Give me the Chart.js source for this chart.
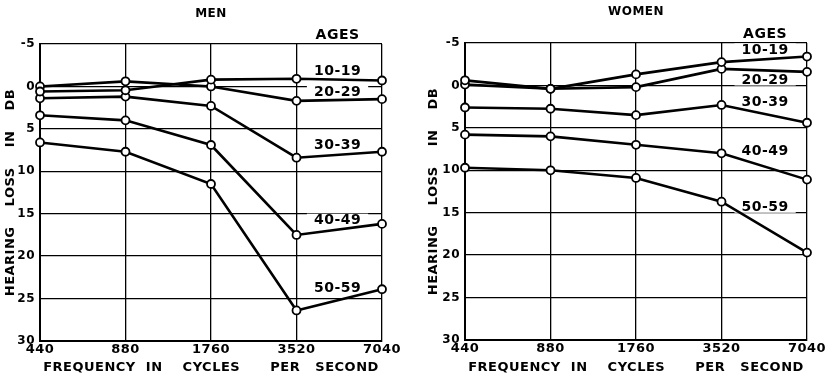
<!DOCTYPE html>
<html lang="en">
<head>
  <meta charset="UTF-8" />
  <title>Hearing loss by age</title>
  <script src="https://cdn.jsdelivr.net/npm/chart.js"></script>
  <style>
    body { margin: 0; background: #fff; }
    .wrap { position: relative; width: 829px; height: 376px; }
    #menWrap { position: absolute; left: 0; top: 0; width: 410px; height: 376px; }
    #womenWrap { position: absolute; left: 416px; top: 0; width: 413px; height: 376px; }
  </style>
</head>
<body>
  <div class="wrap">
    <div id="menWrap"><canvas id="menChart"></canvas></div>
    <div id="womenWrap"><canvas id="womenChart"></canvas></div>
  </div>

  <script>
    const freqLabels = ['440', '880', '1760', '3520', '7040'];
    const ageGroups = ['10-19', '20-29', '30-39', '40-49', '50-59'];

    // hearing loss in dB, one array per age group
    const men10 = [0.6, 0.45, -0.8, -0.9, -0.7];
    const men20 = [0.0, -0.6, 0.0, 1.7, 1.5];
    const men30 = [1.4, 1.2, 2.3, 8.4, 7.7];
    const men40 = [3.4, 4.0, 6.9, 17.5, 16.2];
    const men50 = [6.6, 7.7, 11.5, 26.4, 23.9];

    const women10 = [-0.6, 0.4, -1.3, -2.75, -3.4];
    const women20 = [-0.1, 0.4, 0.2, -1.95, -1.6];
    const women30 = [2.6, 2.75, 3.5, 2.3, 4.4];
    const women40 = [5.8, 6.0, 7.0, 8.0, 11.1];
    const women50 = [9.7, 10.0, 10.9, 13.7, 19.7];

    // where the "AGES" legend texts sit (in data units)
    const menTagY = [-6.1, -1.9, 0.6, 6.8, 15.7, 23.7];
    const womenTagY = [-6.1, -4.25, -0.7, 1.9, 7.6, 14.3];

    const FONT = '"DejaVu Sans", sans-serif';

    // draws the age labels on a white box, under the lines
    const tagPlugin = {
      id: 'ageTags',
      beforeDraw(chart) {
        chart.ctx.letterSpacing = '0.5px';
      },
      beforeDatasetsDraw(chart, args, opts) {
        const { ctx, scales: { x, y } } = chart;
        ctx.save();
        ctx.letterSpacing = '0.5px';
        ctx.font = 'bold 14px ' + FONT;
        ctx.textAlign = 'center';
        ctx.textBaseline = 'middle';
        const px = x.getPixelForValue(opts.xPos);
        ['AGES'].concat(ageGroups).forEach((t, i) => {
          const py = y.getPixelForValue(opts.yPos[i]);
          const w = ctx.measureText(t).width + 14;
          ctx.fillStyle = '#fff';
          ctx.fillRect(px - w / 2, py - 6, w, 12);
          ctx.fillStyle = '#000';
          ctx.fillText(t, px, py + 1);
        });
        ctx.restore();
      }
    };

    function makeDatasets(series) {
      return series.map((data, i) => ({
        label: ageGroups[i],
        data: data,
        borderColor: '#000',
        borderWidth: 2.6,
        tension: 0,
        pointRadius: 4,
        pointBorderWidth: 1.8,
        pointBackgroundColor: '#fff',
        pointBorderColor: '#000',
        clip: false
      }));
    }

    function makeChart(id, title, series, tagY, tagX, pad) {
      const ctx = document.getElementById(id).getContext('2d');
      return new Chart(ctx, {
        type: 'line',
        data: { labels: freqLabels, datasets: makeDatasets(series) },
        options: {
          responsive: true,
          maintainAspectRatio: false,
          animation: false,
          layout: { padding: { right: pad.right, left: 0, bottom: 0, top: 0 } },
          plugins: {
            legend: { display: false },
            tooltip: { enabled: false },
            title: {
              display: true,
              text: title,
              fullSize: false,
              color: '#000',
              font: { family: FONT, size: 12, weight: 'bold', lineHeight: 1.2 },
              padding: { top: pad.titleTop, bottom: pad.titleBottom }
            },
            ageTags: { xPos: tagX, yPos: tagY }
          },
          scales: {
            x: {
              type: 'category',
              offset: false,
              grid: { color: '#000', lineWidth: 1.3, drawTicks: false, offset: false },
              border: { color: '#000', width: 2 },
              ticks: {
                color: '#000',
                padding: 1,
                maxRotation: 0,
                autoSkip: false,
                font: { family: FONT, size: 13, weight: 'bold' }
              },
              title: {
                display: true,
                text: 'FREQUENCY  IN    CYCLES      PER   SECOND',
                color: '#000',
                font: { family: FONT, size: 13, weight: 'bold', lineHeight: 1.2 },
                padding: { top: 0, bottom: 1 }
              },
              afterFit(s) { s.height = pad.xHeight; }
            },
            y: {
              type: 'linear',
              reverse: true,
              min: -5,
              max: 30,
              grid: { color: '#000', lineWidth: 1.3, drawTicks: false },
              border: { color: '#000', width: 2 },
              ticks: {
                stepSize: 5,
                color: '#000',
                padding: 5,
                font: { family: FONT, size: 12, weight: 'bold' }
              },
              title: {
                display: true,
                text: 'HEARING    LOSS    IN    DB',
                color: '#000',
                font: { family: FONT, size: 13, weight: 'bold', lineHeight: 1.2 },
                padding: { top: pad.yTitle, bottom: 0 }
              },
              afterFit(s) { s.width = pad.yWidth; }
            }
          }
        },
        plugins: [tagPlugin]
      });
    }

    makeChart('menChart', 'MEN', [men10, men20, men30, men40, men50], menTagY, 3.48,
      { right: 28, titleTop: 7, titleBottom: 22.6, xHeight: 35, yWidth: 40, yTitle: 3 });
    makeChart('womenChart', 'WOMEN', [women10, women20, women30, women40, women50], womenTagY, 3.51,
      { right: 22, titleTop: 5, titleBottom: 23.6, xHeight: 36, yWidth: 49, yTitle: 10 });
  </script>
</body>
</html>
